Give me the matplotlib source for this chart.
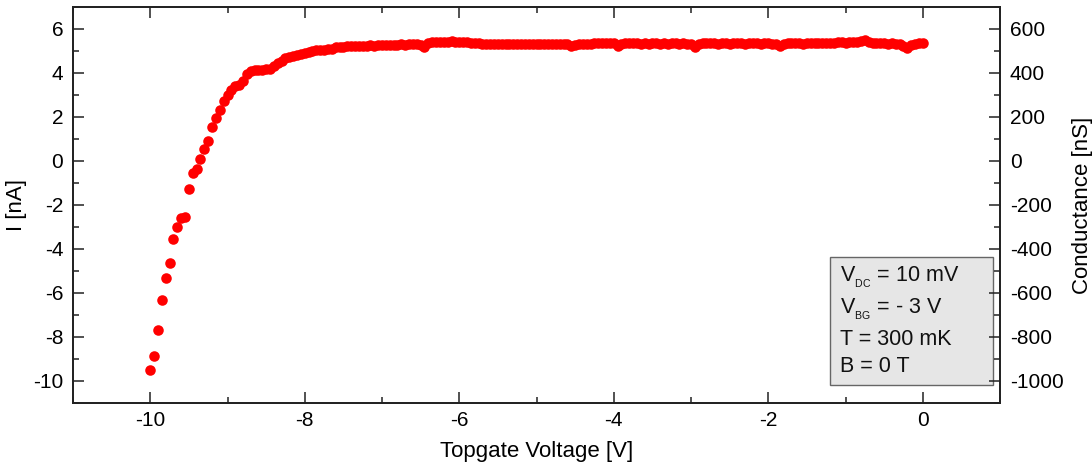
import numpy as np
import matplotlib
matplotlib.use("Agg")
import matplotlib.pyplot as plt
from matplotlib.patches import Rectangle

plt.rcParams['font.family'] = ['Liberation Sans', 'DejaVu Sans']
plt.rcParams['mathtext.fontset'] = 'custom'
plt.rcParams['mathtext.rm'] = 'Liberation Sans'
plt.rcParams['mathtext.default'] = 'regular'
plt.rcParams['axes.unicode_minus'] = False

# Topgate sweep: -10 V to 0 V, 201 points
vtg_start, vtg_stop, vtg_points = -10.0, 0.0, 201

# Measured current [nA]
current_nA = [
    -9.50, -8.86, -7.68, -6.32, -5.30, -4.62, -3.55, -2.98, -2.61, -2.56,
    -1.27, -0.56, -0.36, 0.09, 0.55, 0.92, 1.55, 1.97, 2.32, 2.73,
    3.00, 3.23, 3.42, 3.45, 3.65, 3.94, 4.08, 4.12, 4.14, 4.15,
    4.18, 4.20, 4.30, 4.44, 4.55, 4.66, 4.74, 4.79, 4.82, 4.88,
    4.93, 4.97, 5.02, 5.04, 5.05, 5.05, 5.07, 5.10, 5.16, 5.17,
    5.20, 5.22, 5.21, 5.22, 5.24, 5.23, 5.25, 5.26, 5.24, 5.27,
    5.27, 5.28, 5.27, 5.29, 5.28, 5.30, 5.29, 5.31, 5.30, 5.30,
    5.29, 5.18, 5.36, 5.42, 5.43, 5.42, 5.43, 5.42, 5.44, 5.42,
    5.43, 5.41, 5.40, 5.38, 5.37, 5.35, 5.33, 5.32, 5.34, 5.33,
    5.31, 5.33, 5.32, 5.34, 5.32, 5.31, 5.33, 5.32, 5.30, 5.33,
    5.31, 5.33, 5.32, 5.34, 5.31, 5.33, 5.30, 5.32, 5.30, 5.22,
    5.27, 5.31, 5.33, 5.32, 5.34, 5.36, 5.35, 5.37, 5.36, 5.38,
    5.36, 5.24, 5.33, 5.36, 5.35, 5.37, 5.35, 5.33, 5.36, 5.34,
    5.36, 5.35, 5.33, 5.36, 5.34, 5.37, 5.35, 5.34, 5.36, 5.33,
    5.30, 5.20, 5.32, 5.36, 5.35, 5.37, 5.36, 5.34, 5.37, 5.36,
    5.33, 5.36, 5.35, 5.37, 5.34, 5.36, 5.35, 5.37, 5.34, 5.36,
    5.35, 5.33, 5.30, 5.22, 5.31, 5.36, 5.35, 5.37, 5.36, 5.34,
    5.37, 5.36, 5.38, 5.36, 5.37, 5.35, 5.38, 5.37, 5.39, 5.40,
    5.38, 5.41, 5.42, 5.40, 5.44, 5.50, 5.42, 5.38, 5.36, 5.37,
    5.35, 5.33, 5.36, 5.34, 5.31, 5.22, 5.12, 5.27, 5.33, 5.35,
    5.36,
]

x_ticks = [-10, -8, -6, -4, -2, 0]
y_ticks = [-10, -8, -6, -4, -2, 0, 2, 4, 6]
g_ticks = [-1000, -800, -600, -400, -200, 0, 200, 400, 600]
info_lines = [r'V$_{_{DC}}$ = 10 mV', r'V$_{_{BG}}$ = - 3 V', 'T = 300 mK', 'B = 0 T']
v_dc_mV = 10.0

vtg = np.linspace(vtg_start, vtg_stop, vtg_points)

W, H = 1092, 471
fig = plt.figure(figsize=(W / 100, H / 100), dpi=100)
ax = fig.add_axes([73 / W, (H - 403) / H, 927 / W, 396 / H])

ax.plot(vtg, current_nA, 'o', color='#ff0000', markersize=7.6, markeredgewidth=0)

ax.set_xlim(-11, 1)
ax.set_ylim(-11, 7)
ax.set_xticks(x_ticks)
ax.set_xticks(np.arange(-11, 2, 1), minor=True)
ax.set_yticks(y_ticks)
ax.set_yticks(np.arange(-11, 8, 1), minor=True)

ax2 = ax.twinx()
ylo, yhi = ax.get_ylim()
# conductance [nS] = I [nA] / V_DC [mV] * 1000
ax2.set_ylim(ylo / v_dc_mV * 1000, yhi / v_dc_mV * 1000)
ax2.set_yticks(g_ticks)
ax2.set_yticks(np.arange(-1100, 800, 100), minor=True)

fs = 15
for a in (ax, ax2):
    for s in a.spines.values():
        s.set_linewidth(1.3)
        s.set_color('#222222')
    a.tick_params(which='both', direction='in', width=1.1, color='#222222', labelsize=fs)
    a.tick_params(which='major', length=8)
    a.tick_params(which='minor', length=4)
ax.tick_params(which='both', top=True, right=False)
ax.tick_params(axis='x', pad=6)
ax.tick_params(axis='y', pad=7)
ax2.tick_params(axis='y', pad=7)

ax.set_xlabel('Topgate Voltage [V]', fontsize=16, labelpad=8)
ax.set_ylabel('I [nA]', fontsize=16, labelpad=4)
ax2.set_ylabel('Conductance [nS]', fontsize=16, labelpad=6)

# info box
bx0, bx1 = (829.5 - 73) / 927, (993 - 73) / 927
by0, by1 = (403 - 385) / 396, (403 - 257) / 396
ax.add_patch(Rectangle((bx0, by0), bx1 - bx0, by1 - by0, transform=ax.transAxes,
                       facecolor='#e6e6e6', edgecolor='#666666', linewidth=1.0, zorder=5))
tx = (840 - 73) / 927
baselines = [281.5, 314, 345, 372]
for line, yb in zip(info_lines, baselines):
    ax.text(tx, (403 - yb) / 396, line, transform=ax.transAxes, fontsize=15.5,
            va='baseline', ha='left', zorder=6, color='#111111')

fig.savefig('out.png', dpi=100)
